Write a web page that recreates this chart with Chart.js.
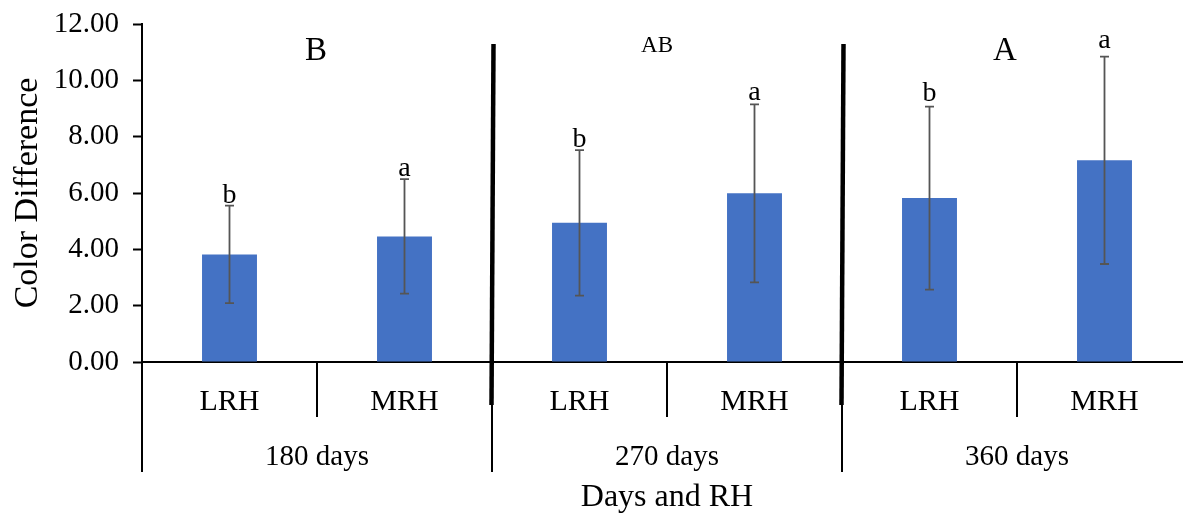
<!DOCTYPE html>
<html>
<head>
<meta charset="utf-8">
<title>Color Difference</title>
<script src="https://cdn.jsdelivr.net/npm/chart.js@4.4.1/dist/chart.umd.min.js"></script>
<style>
  html, body { margin: 0; padding: 0; background: #fff; overflow: hidden; }
  #wrap { position: relative; width: 1192px; height: 514px; }
</style>
</head>
<body>
<div id="wrap"><canvas id="colorChart"></canvas></div>
<script>
// data
var rhLabels = ['LRH', 'MRH', 'LRH', 'MRH', 'LRH', 'MRH'];
var dayGroups = ['180 days', '270 days', '360 days'];
var groupLetters = ['B', 'AB', 'A'];
var meanValues = [3.82, 4.46, 4.94, 5.99, 5.82, 7.16];
var sdValues = [1.73, 2.03, 2.58, 3.16, 3.25, 3.68];
var barLetters = ['b', 'a', 'b', 'a', 'b', 'a'];
var yMax = 12;
var yStep = 2;

var serif = "'Liberation Serif', 'Times New Roman', serif";
Chart.defaults.font.family = serif;
Chart.defaults.color = '#000';

// error bars + significance letters above each bar
var errorBarPlugin = {
  id: 'errorBars',
  afterDatasetsDraw: function (chart) {
    var ctx = chart.ctx;
    var y = chart.scales.y;
    var meta = chart.getDatasetMeta(0);
    var letterGap = [3, 3, 3, 4, 6, 9];
    ctx.save();
    meta.data.forEach(function (bar, i) {
      var top = y.getPixelForValue(meanValues[i] + sdValues[i]);
      var bot = y.getPixelForValue(meanValues[i] - sdValues[i]);
      ctx.strokeStyle = '#555555';
      ctx.lineWidth = 1.8;
      ctx.beginPath();
      ctx.moveTo(bar.x, top); ctx.lineTo(bar.x, bot);
      ctx.moveTo(bar.x - 4.5, top); ctx.lineTo(bar.x + 4.5, top);
      ctx.moveTo(bar.x - 4.5, bot); ctx.lineTo(bar.x + 4.5, bot);
      ctx.stroke();

      ctx.fillStyle = '#000';
      ctx.font = '28px ' + serif;
      ctx.textAlign = 'center';
      ctx.textBaseline = 'alphabetic';
      ctx.fillText(barLetters[i], bar.x, top - letterGap[i]);
    });
    ctx.restore();
  }
};

// two-level category axis, group dividers and group letters
var groupAxisPlugin = {
  id: 'groupAxis',
  afterDraw: function (chart) {
    var ctx = chart.ctx;
    var x = chart.scales.x;
    var area = chart.chartArea;
    var step = x.getPixelForValue(1) - x.getPixelForValue(0);
    var base = area.bottom;
    var letterSize = [33, 23, 33];
    var letterShift = [-1, -10, -12];
    var letterBase = [60, 52, 60];

    ctx.save();
    ctx.strokeStyle = '#000';
    ctx.fillStyle = '#000';
    ctx.textAlign = 'center';
    ctx.textBaseline = 'alphabetic';

    // tick lines between categories
    ctx.lineWidth = 2;
    for (var i = 0; i <= rhLabels.length; i++) {
      var bx = Math.round(x.getPixelForValue(i) - step / 2);
      var len = (i % 2 === 0) ? 110 : 55;
      ctx.beginPath();
      ctx.moveTo(bx, base);
      ctx.lineTo(bx, base + len);
      ctx.stroke();
    }

    // heavy dividers between day groups
    ctx.lineWidth = 4.5;
    for (var g = 1; g < dayGroups.length; g++) {
      var dx = x.getPixelForValue(g * 2) - step / 2;
      ctx.beginPath();
      ctx.moveTo(dx + 1.5, area.top + 20);
      ctx.lineTo(dx - 0.5, base + 43);
      ctx.stroke();
    }

    // RH labels
    ctx.font = '30px ' + serif;
    rhLabels.forEach(function (lab, i) {
      ctx.fillText(lab, x.getPixelForValue(i), base + 48);
    });

    // day group labels and group letters
    dayGroups.forEach(function (lab, g) {
      var cx = (x.getPixelForValue(g * 2) + x.getPixelForValue(g * 2 + 1)) / 2;
      ctx.font = '29px ' + serif;
      ctx.fillText(lab, cx, base + 103);
      ctx.font = letterSize[g] + 'px ' + serif;
      ctx.fillText(groupLetters[g], cx + letterShift[g], letterBase[g]);
    });

    // axis title
    ctx.font = '32px ' + serif;
    ctx.fillText('Days and RH', (area.left + area.right) / 2, base + 144);
    ctx.restore();
  }
};

var config = {
  type: 'bar',
  data: {
    labels: rhLabels,
    datasets: [{
      label: 'Color Difference',
      data: meanValues,
      backgroundColor: '#4472C4',
      borderWidth: 0,
      barPercentage: 0.314,
      categoryPercentage: 1.0
    }]
  },
  options: {
    responsive: true,
    maintainAspectRatio: false,
    animation: false,
    layout: { padding: { top: 24, right: 0, bottom: 0, left: 0 } },
    plugins: {
      legend: { display: false },
      tooltip: { enabled: false }
    },
    scales: {
      x: {
        ticks: { display: false },
        grid: { display: false },
        border: { color: '#000', width: 2 },
        afterFit: function (s) { s.height = 152; }
      },
      y: {
        min: 0,
        max: yMax,
        ticks: {
          stepSize: yStep,
          color: '#000',
          padding: 14,
          font: { family: serif, size: 29 },
          callback: function (v) { return v.toFixed(2); }
        },
        grid: {
          drawOnChartArea: false,
          drawTicks: true,
          tickLength: 9,
          tickColor: '#000',
          tickWidth: 2
        },
        border: { color: '#000', width: 2 },
        title: {
          display: true,
          text: 'Color Difference',
          color: '#000',
          font: { family: serif, size: 34 },
          padding: { top: 8, bottom: 0 }
        },
        afterFit: function (s) {
          s.width = 142;
          s.paddingTop = 0;
          s.paddingBottom = 0;
        }
      }
    }
  },
  plugins: [errorBarPlugin, groupAxisPlugin]
};

var ctx = document.getElementById('colorChart').getContext('2d');
window.colorChart = new Chart(ctx, config);
</script>
</body>
</html>
